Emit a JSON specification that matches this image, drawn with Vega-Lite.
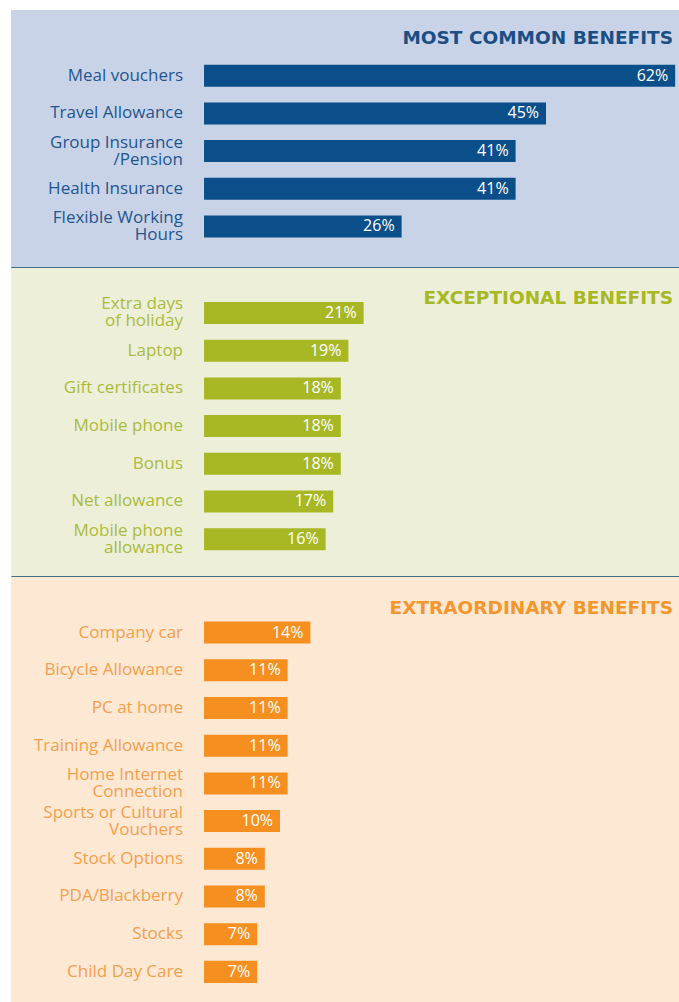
{
  "$schema": "https://vega.github.io/schema/vega-lite/v6.json",
  "padding": {"left": 11, "top": 10, "right": 0, "bottom": 0},
  "background": "white",
  "spacing": 0,
  "config": {"view": {"stroke": null}, "font": "Open Sans", "concat": {"spacing": 0}},
  "vconcat": [
    {
      "width": 668,
      "height": 258,
      "view": {"fill": "#c9d3e7", "stroke": null},
      "data": {"values": [
        {"benefit": "Meal vouchers", "share": 0.62},
        {"benefit": "Travel Allowance", "share": 0.45},
        {"benefit": "Group Insurance\n/Pension", "share": 0.41},
        {"benefit": "Health Insurance", "share": 0.41},
        {"benefit": "Flexible Working\nHours", "share": 0.26}
      ]},
      "encoding": {
        "y": {"field": "benefit", "type": "nominal", "axis": null,
          "scale": {"domain": ["MOST COMMON BENEFITS", "Meal vouchers", "Travel Allowance", "Group Insurance\n/Pension", "Health Insurance", "Flexible Working\nHours"],
            "paddingInner": 0.416, "paddingOuter": 0.63, "align": 0.358, "round": false}}
      },
      "layer": [
        {
          "mark": {"type": "bar", "color": "#0b4f8a"},
          "encoding": {
            "x": {"field": "share", "type": "quantitative", "stack": null, "title": null,
              "scale": {"domain": [-0.254, 0.625], "nice": false, "zero": false},
              "axis": {"labels": false, "ticks": false, "grid": false, "domainColor": "#3f6f8d", "domainWidth": 3}},
            "x2": {"datum": 0}
          }
        },
        {
          "transform": [{"filter": "indexof(datum.benefit, '\\n') < 0"}],
          "mark": {"type": "text", "align": "right", "baseline": "middle", "dx": -21, "fontSize": 17, "color": "#1e5690"},
          "encoding": {"x": {"datum": 0, "title": null}, "text": {"field": "benefit"}}
        },
        {
          "transform": [{"filter": "indexof(datum.benefit, '\\n') >= 0"}],
          "mark": {"type": "text", "align": "right", "baseline": "middle", "dx": -21, "dy": -8.5, "fontSize": 17, "lineBreak": "\n", "lineHeight": 17, "color": "#1e5690"},
          "encoding": {"x": {"datum": 0, "title": null}, "text": {"field": "benefit"}}
        },
        {
          "mark": {"type": "text", "align": "right", "baseline": "middle", "dx": -7, "fontSize": 16, "letterSpacing": 1.3, "color": "white"},
          "encoding": {"x": {"field": "share", "type": "quantitative", "title": null}, "text": {"field": "share", "format": ".0%"}}
        },
        {
          "data": {"values": [{"title": "MOST COMMON BENEFITS"}]},
          "mark": {"type": "text", "align": "right", "baseline": "middle", "dx": -6, "font": "DejaVu Sans", "fontSize": 18.5, "fontWeight": "bold", "color": "#1a4f85"},
          "encoding": {"x": {"datum": 0.625, "title": null}, "y": {"field": "title", "type": "nominal"}, "text": {"field": "title"}}
        }
      ]
    },
    {
      "width": 668,
      "height": 309,
      "view": {"fill": "#edefd9", "stroke": null},
      "data": {"values": [
        {"benefit": "Extra days\nof holiday", "share": 0.21},
        {"benefit": "Laptop", "share": 0.19},
        {"benefit": "Gift certificates", "share": 0.18},
        {"benefit": "Mobile phone", "share": 0.18},
        {"benefit": "Bonus", "share": 0.18},
        {"benefit": "Net allowance", "share": 0.17},
        {"benefit": "Mobile phone\nallowance", "share": 0.16}
      ]},
      "encoding": {
        "y": {"field": "benefit", "type": "nominal", "axis": null,
          "scale": {"domain": ["Extra days\nof holiday", "Laptop", "Gift certificates", "Mobile phone", "Bonus", "Net allowance", "Mobile phone\nallowance"],
            "paddingInner": 0.416, "paddingOuter": 0.806, "align": 0.559, "round": false}}
      },
      "layer": [
        {
          "mark": {"type": "bar", "color": "#a8b824"},
          "encoding": {
            "x": {"field": "share", "type": "quantitative", "stack": null, "title": null,
              "scale": {"domain": [-0.254, 0.625], "nice": false, "zero": false},
              "axis": {"labels": false, "ticks": false, "grid": false, "domainColor": "#3f6f8d", "domainWidth": 3}},
            "x2": {"datum": 0}
          }
        },
        {
          "transform": [{"filter": "indexof(datum.benefit, '\\n') < 0"}],
          "mark": {"type": "text", "align": "right", "baseline": "middle", "dx": -21, "fontSize": 17, "color": "#abbb3c"},
          "encoding": {"x": {"datum": 0, "title": null}, "text": {"field": "benefit"}}
        },
        {
          "transform": [{"filter": "indexof(datum.benefit, '\\n') >= 0"}],
          "mark": {"type": "text", "align": "right", "baseline": "middle", "dx": -21, "dy": -8.5, "fontSize": 17, "lineBreak": "\n", "lineHeight": 17, "color": "#abbb3c"},
          "encoding": {"x": {"datum": 0, "title": null}, "text": {"field": "benefit"}}
        },
        {
          "mark": {"type": "text", "align": "right", "baseline": "middle", "dx": -7, "fontSize": 16, "letterSpacing": 1.3, "color": "white"},
          "encoding": {"x": {"field": "share", "type": "quantitative", "title": null}, "text": {"field": "share", "format": ".0%"}}
        },
        {
          "data": {"values": [{"title": "EXCEPTIONAL BENEFITS"}]},
          "mark": {"type": "text", "align": "right", "baseline": "middle", "dx": -6, "dy": -15, "font": "DejaVu Sans", "fontSize": 18.5, "fontWeight": "bold", "color": "#a8b824"},
          "encoding": {"x": {"datum": 0.625, "title": null}, "y": {"datum": "Extra days\nof holiday"}, "text": {"field": "title"}}
        }
      ]
    },
    {
      "width": 668,
      "height": 425,
      "view": {"fill": "#fde8d4", "stroke": null},
      "data": {"values": [
        {"benefit": "Company car", "share": 0.14},
        {"benefit": "Bicycle  Allowance", "share": 0.11},
        {"benefit": "PC at home", "share": 0.11},
        {"benefit": "Training Allowance", "share": 0.11},
        {"benefit": "Home Internet\nConnection", "share": 0.11},
        {"benefit": "Sports or Cultural\nVouchers", "share": 0.10},
        {"benefit": "Stock Options", "share": 0.08},
        {"benefit": "PDA/Blackberry", "share": 0.08},
        {"benefit": "Stocks", "share": 0.07},
        {"benefit": "Child Day Care", "share": 0.07}
      ]},
      "encoding": {
        "y": {"field": "benefit", "type": "nominal", "axis": null,
          "scale": {"domain": ["Company car", "Bicycle  Allowance", "PC at home", "Training Allowance", "Home Internet\nConnection", "Sports or Cultural\nVouchers", "Stock Options", "PDA/Blackberry", "Stocks", "Child Day Care"],
            "paddingInner": 0.416, "paddingOuter": 0.845, "align": 0.70, "round": false}}
      },
      "layer": [
        {
          "mark": {"type": "bar", "color": "#f58f1f"},
          "encoding": {
            "x": {"field": "share", "type": "quantitative", "stack": null, "title": null,
              "scale": {"domain": [-0.254, 0.625], "nice": false, "zero": false},
              "axis": null},
            "x2": {"datum": 0}
          }
        },
        {
          "transform": [{"filter": "indexof(datum.benefit, '\\n') < 0"}],
          "mark": {"type": "text", "align": "right", "baseline": "middle", "dx": -21, "fontSize": 17, "color": "#f3a04c"},
          "encoding": {"x": {"datum": 0, "title": null, "axis": null}, "text": {"field": "benefit"}}
        },
        {
          "transform": [{"filter": "indexof(datum.benefit, '\\n') >= 0"}],
          "mark": {"type": "text", "align": "right", "baseline": "middle", "dx": -21, "dy": -8.5, "fontSize": 17, "lineBreak": "\n", "lineHeight": 17, "color": "#f3a04c"},
          "encoding": {"x": {"datum": 0, "title": null, "axis": null}, "text": {"field": "benefit"}}
        },
        {
          "mark": {"type": "text", "align": "right", "baseline": "middle", "dx": -7, "fontSize": 16, "letterSpacing": 1.3, "color": "white"},
          "encoding": {"x": {"field": "share", "type": "quantitative", "title": null, "axis": null}, "text": {"field": "share", "format": ".0%"}}
        },
        {
          "data": {"values": [{"title": "EXTRAORDINARY BENEFITS"}]},
          "mark": {"type": "text", "align": "right", "baseline": "middle", "dx": -6, "dy": -25, "font": "DejaVu Sans", "fontSize": 18.5, "fontWeight": "bold", "color": "#f3962c"},
          "encoding": {"x": {"datum": 0.625, "title": null, "axis": null}, "y": {"datum": "Company car"}, "text": {"field": "title"}}
        }
      ]
    }
  ]
}
